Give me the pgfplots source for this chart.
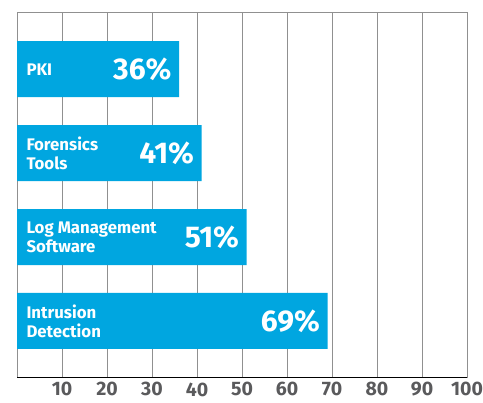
\documentclass[border=0pt]{standalone}
\usepackage{fontspec}
\setmainfont{Fira Sans}
\usepackage{pgfplots}
\pgfplotsset{compat=1.18}
\definecolor{barblue}{HTML}{00A6E0}
\definecolor{gridgray}{HTML}{909090}
\definecolor{tickgray}{HTML}{5A5A5C}
\definecolor{baseline}{HTML}{C07A55}
\begin{document}
\begin{tikzpicture}
\begin{axis}[
    scale only axis,
    width=450pt, height=365pt,
    xmin=0, xmax=100,
    ymin=-0.68, ymax=3.67,
    xtick={10,20,...,100},
    ytick=\empty,
    major tick length=0pt,
    xmajorgrids,
    grid style={draw=gridgray, line width=1pt},
    axis line style={draw=gridgray, line width=1pt},
    tick label style={font=\bfseries\fontsize{19.5}{19.5}\selectfont, text=tickgray},
    xticklabel style={yshift=-1pt},
    /pgf/number format/assume math mode=true,
    bar width=0.667,
]
% bars with the percentage at their end
\addplot[xbar, fill=barblue, draw=none,
    point meta=x,
    nodes near coords={\pgfmathprintnumber{\pgfplotspointmeta}\%},
    every node near coord/.style={anchor=east, xshift=-4pt, text=white,
        font=\bfseries\fontsize{30}{30}\selectfont}]
    coordinates {(69,0) (51,1) (41,2) (36,3)};
% category names inside the bars
\addplot[draw=none, mark=none,
    point meta=explicit symbolic,
    nodes near coords,
    every node near coord/.style={anchor=west, xshift=6pt, text=white, align=left,
        font=\bfseries\fontsize{16.8}{19}\selectfont}]
    coordinates {(0,0) [{Intrusion\\Detection}] (0,1) [{Log Management\\Software}]
                 (0,2) [{Forensics\\Tools}] (0,3) [PKI]};
\draw[baseline, line width=1.4pt] (rel axis cs:0,0) -- (rel axis cs:1,0);
\end{axis}
\pgfresetboundingbox
\path ([shift={(-17pt,-25pt)}]current axis.south west) rectangle ([shift={(16pt,13pt)}]current axis.north east);
\end{tikzpicture}
\end{document}
